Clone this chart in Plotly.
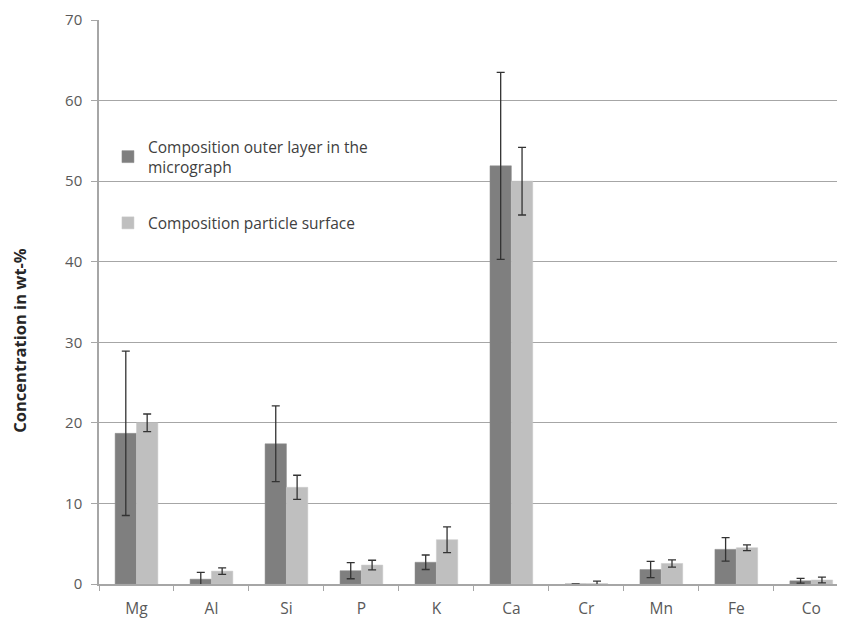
import plotly.graph_objects as go

elements = ["Mg", "Al", "Si", "P", "K", "Ca", "Cr", "Mn", "Fe", "Co"]
outer_layer = [18.7, 0.6, 17.4, 1.65, 2.7, 51.9, 0.0, 1.8, 4.3, 0.4]
outer_layer_err = [10.2, 0.85, 4.7, 1.0, 0.9, 11.6, 0.0, 1.0, 1.45, 0.3]
particle_surface = [20.0, 1.6, 12.0, 2.35, 5.5, 50.0, 0.05, 2.55, 4.5, 0.5]
particle_surface_err = [1.1, 0.4, 1.5, 0.6, 1.6, 4.2, 0.3, 0.45, 0.35, 0.35]
y_title = "<b>Concentration in wt-%</b>"

font_family = "'Open Sans', sans-serif"

fig = go.Figure()
fig.add_trace(go.Bar(
    x=elements, y=outer_layer,
    name="Composition outer layer in the<br>micrograph",
    marker=dict(color="#7f7f7f", line=dict(color="#8c8c8c", width=0.5)),
    error_y=dict(type="data", array=outer_layer_err, color="#333333", thickness=1.3, width=4),
    legendgroup="a",
))
fig.add_trace(go.Bar(
    x=elements, y=particle_surface,
    name="Composition particle surface",
    marker=dict(color="#bfbfbf", line=dict(color="#c8c8c8", width=0.5)),
    error_y=dict(type="data", array=particle_surface_err, color="#333333", thickness=1.3, width=4),
    legendgroup="b",
))

fig.add_annotation(
    text=y_title, textangle=-90, showarrow=False,
    xref="paper", yref="paper", x=-0.106, y=0.433,
    xanchor="center", yanchor="middle",
    font=dict(size=16.5, color="#262626", family=font_family),
)

fig.update_layout(
    width=837, height=613,
    margin=dict(l=91, r=0, t=12, b=37),
    paper_bgcolor="white", plot_bgcolor="white",
    barmode="group", bargap=0.43, bargroupgap=0.0,
    font=dict(family=font_family, size=13, color="#595959"),
    showlegend=True,
    legend=dict(
        x=0.012, y=0.805, xanchor="left", yanchor="top",
        bgcolor="rgba(0,0,0,0)", font=dict(size=15.5, color="#404040"),
        tracegroupgap=33, itemwidth=30,
    ),
    xaxis=dict(
        range=[-0.5, 9.45], showgrid=False, automargin=False,
        showline=True, linecolor="#a6a6a6", linewidth=1.5,
        ticks="outside", tickson="boundaries", ticklen=5, tickcolor="#a6a6a6",
        tickfont=dict(size=15.5, color="#595959"), ticklabelstandoff=10,
    ),
    yaxis=dict(
        range=[0, 70], dtick=10, automargin=False,
        showgrid=True, gridcolor="#a6a6a6", gridwidth=1.3,
        showline=True, linecolor="#a6a6a6", linewidth=1.5,
        ticks="outside", ticklen=6, tickcolor="#a6a6a6",
        tickfont=dict(size=15, color="#595959"), ticklabelstandoff=6,
        zeroline=False,
    ),
)

fig.write_html("out.html")
